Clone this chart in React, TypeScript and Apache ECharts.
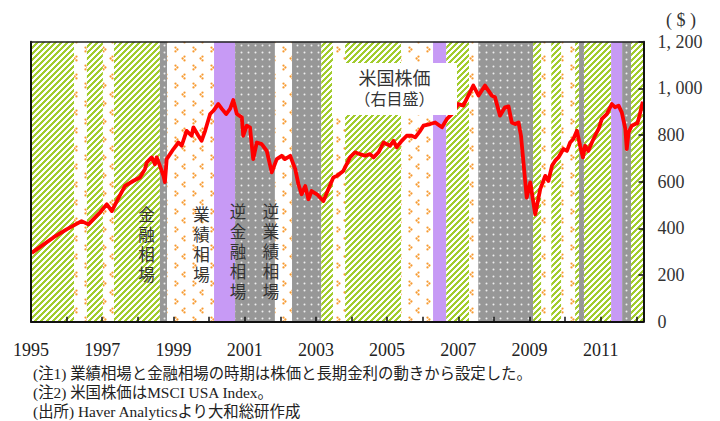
import React, { useEffect, useRef } from "react";
import * as echarts from "echarts";

// ---- data ----
// US stock price (MSCI USA), x in decimal years
const lineYears = [
  1995.02, 1995.63, 1996.0, 1996.42, 1996.61, 1996.94, 1997.13, 1997.27, 1997.41, 1997.64,
  1997.87, 1998.06, 1998.2, 1998.25, 1998.39, 1998.48, 1998.53, 1998.62, 1998.72, 1998.76,
  1998.81, 1999.0, 1999.14, 1999.23, 1999.37, 1999.51, 1999.56, 1999.7, 1999.79, 1999.89,
  2000.03, 2000.12, 2000.26, 2000.36, 2000.48, 2000.59, 2000.68, 2000.78, 2000.92, 2000.96,
  2001.06, 2001.15, 2001.24, 2001.34, 2001.48, 2001.62, 2001.76, 2001.9, 2002.04, 2002.13,
  2002.28, 2002.42, 2002.51, 2002.6, 2002.7, 2002.79, 2002.88, 2003.03, 2003.21, 2003.35,
  2003.49, 2003.59, 2003.77, 2003.96, 2004.1, 2004.24, 2004.38, 2004.52, 2004.62, 2004.76,
  2004.9, 2004.99, 2005.08, 2005.18, 2005.27, 2005.41, 2005.55, 2005.69, 2005.79, 2005.93,
  2006.02, 2006.21, 2006.35, 2006.54, 2006.68, 2006.82, 2007.0, 2007.14, 2007.28, 2007.42,
  2007.57, 2007.75, 2007.94, 2008.03, 2008.17, 2008.31, 2008.41, 2008.5, 2008.6, 2008.69,
  2008.76, 2008.83, 2008.92, 2009.02, 2009.16, 2009.3, 2009.44, 2009.53, 2009.63, 2009.72,
  2009.81, 2009.95, 2010.05, 2010.14, 2010.23, 2010.33, 2010.42, 2010.5, 2010.56, 2010.65,
  2010.75, 2010.84, 2010.94, 2011.03, 2011.17, 2011.31, 2011.4, 2011.5, 2011.59, 2011.69,
  2011.73, 2011.78, 2011.87, 2011.97, 2012.03, 2012.11, 2012.18,
];
const lineValues = [
  295, 361, 396, 431, 417, 469, 503, 474, 517, 582,
  603, 618, 654, 682, 704, 675, 704, 668, 625, 598,
  697, 740, 768, 754, 818, 797, 833, 797, 775, 818,
  890, 904, 933, 912, 890, 912, 950, 890, 876, 797,
  840, 833, 697, 768, 761, 732, 640, 697, 711, 697,
  711, 654, 589, 546, 582, 525, 560, 546, 517, 568,
  618, 625, 646, 704, 726, 718, 711, 718, 704, 726,
  768, 761, 754, 775, 747, 775, 797, 797, 790, 818,
  840, 847, 854, 833, 869, 890, 933, 926, 969, 1012,
  969, 1012, 969, 962, 883, 919, 923, 854, 847, 854,
  797, 682, 532, 597, 460, 568, 625, 603, 668, 690,
  704, 740, 732, 768, 783, 818, 754, 704, 754, 732,
  768, 797, 826, 869, 890, 933, 919, 926, 897, 826,
  740, 811, 840, 847, 850, 897, 943,
];

// market regimes: G = 金融相場, E = 業績相場, P = 逆金融相場, R = 逆業績相場
const regimeStart = [
  1995.0, 1996.21, 1996.57, 1997.02, 1997.33, 1998.62, 1998.82, 2000.14, 2000.73, 2001.85,
  2002.33, 2003.15, 2003.48, 2003.82, 2005.39, 2006.29, 2006.66, 2007.3, 2007.56, 2009.1,
  2009.33, 2009.61, 2009.89, 2010.28, 2010.39, 2010.53, 2011.29, 2011.6, 2011.85,
];
const regimeEnd = [
  1996.21, 1996.57, 1997.02, 1997.33, 1998.62, 1998.82, 2000.14, 2000.73, 2001.85, 2002.33,
  2003.15, 2003.48, 2003.82, 2005.39, 2006.29, 2006.66, 2007.3, 2007.56, 2009.1, 2009.33,
  2009.61, 2009.89, 2010.28, 2010.39, 2010.53, 2011.29, 2011.6, 2011.85, 2012.2,
];
const regimeType = [
  "G", "E", "G", "E", "G", "R", "E", "P", "R", "E",
  "R", "G", "E", "G", "E", "P", "G", "E", "R", "G",
  "E", "G", "E", "G", "R", "G", "P", "R", "G",
];

const xMin = 1995;
const xMax = 2012.2;
const yTickLabels = ["0", "200", "400", "600", "800", "1, 000", "1, 200"];

const regimeLabels = [
  { text: "金融相場", x: 146.5, center: 245 },
  { text: "業績相場", x: 201.5, center: 245 },
  { text: "逆金融相場", x: 238, center: 252 },
  { text: "逆業績相場", x: 271, center: 252 },
];
const footnotes = [
  "(注1) 業績相場と金融相場の時期は株価と長期金利の動きから設定した。",
  "(注2) 米国株価はMSCI USA Index。",
  "(出所) Haver Analyticsより大和総研作成",
];

function tile(w: number, h: number, draw: (ctx: CanvasRenderingContext2D) => void) {
  const c = document.createElement("canvas");
  c.width = w;
  c.height = h;
  const ctx = c.getContext("2d")!;
  draw(ctx);
  return { image: c.toDataURL(), repeat: "repeat", imageWidth: w, imageHeight: h };
}

function makePatterns() {
  const green = tile(6, 6, (ctx) => {
    ctx.fillStyle = "#ffffff";
    ctx.fillRect(0, 0, 6, 6);
    ctx.fillStyle = "#a2cc2e";
    for (let y = 0; y < 6; y++)
      for (let x = 0; x < 6; x++) {
        if ((x + y) % 6 < 3) ctx.fillRect(x, y, 1, 1);
      }
  });
  const orange = tile(18, 18, (ctx) => {
    ctx.fillStyle = "#ffffff";
    ctx.fillRect(0, 0, 18, 18);
    ctx.fillStyle = "#f79a30";
    const mark = (cx: number, cy: number, dir: number) => {
      const r = 1.15;
      const d = 1.9;
      ctx.beginPath();
      ctx.arc(cx, cy - d, r, 0, Math.PI * 2);
      ctx.fill();
      ctx.beginPath();
      ctx.arc(cx, cy + d, r, 0, Math.PI * 2);
      ctx.fill();
      ctx.beginPath();
      ctx.arc(cx + dir * d, cy, r, 0, Math.PI * 2);
      ctx.fill();
    };
    mark(4.5, 4.5, -1);
    mark(13.5, 13.5, 1);
  });
  const gray = tile(7, 7, (ctx) => {
    ctx.fillStyle = "#979797";
    ctx.fillRect(0, 0, 7, 7);
    ctx.fillStyle = "#eeeeee";
    ctx.beginPath();
    ctx.arc(3.5, 3.5, 1.0, 0, Math.PI * 2);
    ctx.fill();
  });
  return { G: green, E: orange, R: gray, P: "#c79af5" } as Record<string, any>;
}

export default function App() {
  const ref = useRef<HTMLDivElement>(null);
  useEffect(() => {
    if (!ref.current) return;
    const chart = echarts.init(ref.current, undefined, { renderer: "svg" });
    const patterns = makePatterns();
    const areas = regimeStart.map((s, i) => [
      { xAxis: s, itemStyle: { color: patterns[regimeType[i]], borderWidth: 0 } },
      { xAxis: regimeEnd[i] },
    ]);
    const data = lineYears.map((y, i) => [y, lineValues[i]]);
    const serif = '"Liberation Serif", "DejaVu Serif", serif';
    const mixed = '"Liberation Serif", "Noto Sans CJK JP", serif';

    const pitch = 20;
    const verticalChars: any[] = [];
    regimeLabels.forEach((l) => {
      const chars = l.text.split("");
      const first = l.center - ((chars.length - 1) * pitch) / 2;
      chars.forEach((ch, k) => {
        verticalChars.push({
          type: "text",
          x: l.x,
          y: first + k * pitch,
          z: 101,
          style: {
            text: ch,
            font: `16.5px ${mixed}`,
            fill: "#333",
            textAlign: "center",
            textVerticalAlign: "middle",
          },
        });
      });
    });

    const graphics: any[] = [
      {
        type: "text",
        x: 681,
        y: 20,
        z: 100,
        style: { text: "( $ )", font: `18px ${serif}`, fill: "#333", textAlign: "center", textVerticalAlign: "middle" },
      },
      {
        type: "rect",
        z: 100,
        shape: { x: 332, y: 63, width: 125, height: 52 },
        style: { fill: "#ffffff" },
      },
      {
        type: "text",
        x: 394.5,
        y: 79,
        z: 101,
        style: { text: "米国株価", font: `18px ${mixed}`, fill: "#333", textAlign: "center", textVerticalAlign: "middle" },
      },
      {
        type: "text",
        x: 394.5,
        y: 99.5,
        z: 101,
        style: { text: "（右目盛）", font: `16px ${mixed}`, fill: "#333", textAlign: "center", textVerticalAlign: "middle" },
      },
      ...verticalChars,
      ...footnotes.map((t, i) => ({
        type: "text",
        x: 33,
        y: 373.5 + i * 19,
        z: 101,
        style: { text: t, font: `15.4px ${mixed}`, fill: "#222", textAlign: "left", textVerticalAlign: "middle" },
      })),
    ];

    const lineAxis = { show: true, onZero: false, lineStyle: { color: "#111", width: 2 } };

    chart.setOption({
      animation: false,
      grid: { left: 31, right: 76.5, top: 41.7, bottom: 99.3, containLabel: false },
      xAxis: [
        {
          type: "value",
          min: xMin,
          max: xMax,
          interval: 1,
          z: 10,
          axisLine: lineAxis,
          axisTick: { show: true, inside: true, length: 5, lineStyle: { color: "#111", width: 1.5 } },
          axisLabel: {
            margin: 19,
            color: "#222",
            fontFamily: serif,
            fontSize: 18,
            formatter: (v: number) => (Number.isInteger(v) && v % 2 === 1 ? String(v) : ""),
          },
          splitLine: { show: false },
        },
        {
          type: "value",
          position: "top",
          min: xMin,
          max: xMax,
          interval: 1,
          z: 10,
          axisLine: { show: true, onZero: false, lineStyle: { color: "#222", width: 1.5 } },
          axisTick: { show: false },
          axisLabel: { show: false },
          splitLine: { show: false },
        },
      ],
      yAxis: [
        {
          type: "value",
          position: "right",
          min: 0,
          max: 1200,
          interval: 200,
          z: 10,
          axisLine: lineAxis,
          axisTick: { show: true, inside: true, length: 5, lineStyle: { color: "#111", width: 1.5 } },
          axisLabel: {
            margin: 14,
            align: "left",
            color: "#333",
            fontFamily: serif,
            fontSize: 18,
            formatter: (v: number) => yTickLabels[Math.round(v / 200)] ?? "",
          },
          splitLine: { show: false },
        },
        {
          type: "value",
          position: "left",
          min: 0,
          max: 1200,
          interval: 200,
          z: 10,
          axisLine: lineAxis,
          axisTick: { show: false },
          axisLabel: { show: false },
          splitLine: { show: false },
        },
      ],
      series: [
        {
          type: "line",
          xAxisIndex: 0,
          yAxisIndex: 0,
          data,
          symbol: "none",
          showSymbol: false,
          z: 3,
          lineStyle: { color: "#ff0000", width: 3.8, join: "round" },
          markArea: { silent: true, z: 1, label: { show: false }, data: areas },
        },
      ],
      graphic: graphics,
    });
    return () => chart.dispose();
  }, []);
  return (
    <div
      ref={ref}
      style={{ position: "fixed", left: 0, top: 0, width: 720, height: 421, background: "#fff" }}
    />
  );
}
